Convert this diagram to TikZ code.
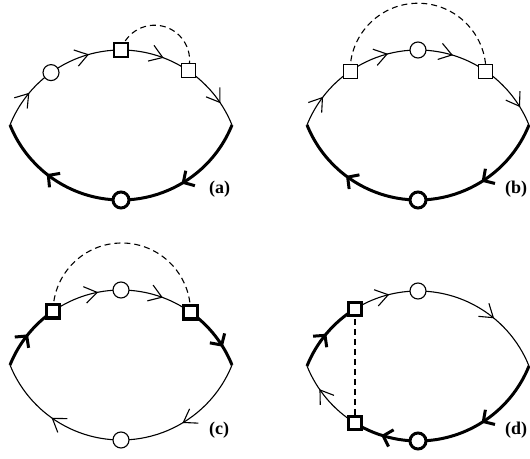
\documentclass[tikz,border=0pt]{standalone}
\usepackage{fontspec}
\setmainfont{Liberation Serif}
\usetikzlibrary{calc}
\def\R{119.64}
\def\H{44.64}
\tikzset{
 lthin/.style={line width=1.1pt},
 lthick/.style={line width=3pt},
 dsh/.style={lthin, dash pattern=on 6pt off 4pt},
 sq/.style={draw, fill=white, rectangle, minimum size=14pt, inner sep=0pt, lthin},
 Sq/.style={draw, fill=white, rectangle, minimum size=13.5pt, inner sep=0pt, line width=3.3pt},
 cir/.style={draw, fill=white, circle, minimum size=16pt, inner sep=0pt, lthin},
 Cir/.style={cir, lthick},
 lab/.style={anchor=base west, inner sep=0pt, font=\fontsize{18}{18}\selectfont\bfseries},
}
% chevron at angle #1 on the arc whose centre is (0,#2); thin or thick
\newcommand\chv[2]{\draw[lthin, line join=miter] ([shift={(0,#2)}]#1:\R) ++(#1+90-34:15) -- ([shift={(0,#2)}]#1:\R) -- ++(#1+90+34:15);}
\newcommand\Chv[2]{\draw[lthick, line join=miter] ([shift={(0,#2)}]#1:\R) ++(#1+90-47:12) -- ([shift={(0,#2)}]#1:\R) -- ++(#1+90+47:12);}
\newcommand\UA[2]{#1{#2}{-\H}}
\newcommand\LA[2]{#1{#2}{\H}}
\begin{document}
\begin{tikzpicture}[x=1pt,y=1pt]
\useasboundingbox (0,0) rectangle (530,458);
% ---------------- (a)
\begin{scope}[shift={(121,333)}]
 \coordinate (aL) at (-111,0); \coordinate (aR) at (111,0);
 \coordinate (aS1) at ([shift={(0,-\H)}]90:\R);
 \coordinate (aS2) at ([shift={(0,-\H)}]55.9:\R);
 \draw[dsh] let \p1=(aS1), \p2=(aS2), \n1={atan2(\y2-\y1,\x2-\x1)}, \n2={veclen(\x2-\x1,\y2-\y1)/2}
   in (aS1) arc[start angle=\n1+180, delta angle=-180, radius=\n2];
 \draw[lthin] (aL) arc[start angle=158.08, end angle=21.92, radius=\R];
 \draw[lthick] (aR) arc[start angle=-21.92, end angle=-158.08, radius=\R];
 \UA\chv{140.5} \UA\chv{106} \UA\chv{69.6} \UA\chv{34.2}
 \LA\Chv{-58.6} \LA\Chv{-127.4}
 \node[cir] (aC1) at ([shift={(0,-\H)}]125.8:\R) {};
 \node[sq] (aQ1) at (aS1) {};
 \node[sq] (aQ2) at (aS2) {};
 \node[Cir] (aC2) at ([shift={(0,\H)}]-90:\R) {};
\end{scope}
% ---------------- (b)
\begin{scope}[shift={(418,333)}]
 \coordinate (bL) at (-111,0); \coordinate (bR) at (111,0);
 \coordinate (bS1) at ([shift={(0,-\H)}]124.6:\R);
 \coordinate (bS2) at ([shift={(0,-\H)}]55.4:\R);
 \draw[dsh] let \p1=(bS1), \p2=(bS2), \n1={atan2(\y2-\y1,\x2-\x1)}, \n2={veclen(\x2-\x1,\y2-\y1)/2}
   in (bS1) arc[start angle=\n1+180, delta angle=-180, radius=\n2];
 \draw[lthin] (bL) arc[start angle=158.08, end angle=21.92, radius=\R];
 \draw[lthick] (bR) arc[start angle=-21.92, end angle=-158.08, radius=\R];
 \UA\chv{143} \UA\chv{105} \UA\chv{73.5} \UA\chv{32}
 \LA\Chv{-56.9} \LA\Chv{-126}
 \node[sq] (bQ1) at (bS1) {};
 \node[sq] (bQ2) at (bS2) {};
 \node[cir] (bC1) at ([shift={(0,-\H)}]90:\R) {};
 \node[Cir] (bC2) at ([shift={(0,\H)}]-90:\R) {};
\end{scope}
% ---------------- (c)
\begin{scope}[shift={(121,93)}]
 \coordinate (cL) at (-111,0); \coordinate (cR) at (111,0);
 \coordinate (cS1) at ([shift={(0,-\H)}]124.6:\R);
 \coordinate (cS2) at ([shift={(0,-\H)}]54.5:\R);
 \draw[dsh] let \p1=(cS1), \p2=(cS2), \n1={atan2(\y2-\y1,\x2-\x1)}, \n2={veclen(\x2-\x1,\y2-\y1)/2}
   in (cS1) arc[start angle=\n1+180, delta angle=-180, radius=\n2];
 \draw[lthick] (cL) arc[start angle=158.08, end angle=124.6, radius=\R];
 \draw[lthin] (cS1) arc[start angle=124.6, end angle=54.5, radius=\R];
 \draw[lthick] (cS2) arc[start angle=54.5, end angle=21.92, radius=\R];
 \draw[lthin] (cR) arc[start angle=-21.92, end angle=-158.08, radius=\R];
 \UA\Chv{142} \UA\chv{101.5} \UA\chv{70} \UA\Chv{32.7}
 \LA\chv{-58.6} \LA\chv{-125}
 \node[Sq] (cQ1) at (cS1) {};
 \node[Sq] (cQ2) at (cS2) {};
 \node[cir] (cC1) at ([shift={(0,-\H)}]90:\R) {};
 \node[cir] (cC2) at ([shift={(0,\H)}]-90:\R) {};
\end{scope}
% ---------------- (d)
\begin{scope}[shift={(418,92)}]
 \coordinate (dL) at (-111,0); \coordinate (dR) at (111,0);
 \coordinate (dS1) at ([shift={(0,-\H)}]121.8:\R);
 \coordinate (dS2) at ([shift={(0,\H)}]-121.8:\R);
 \draw[dsh] (dS1) -- (dS2);
 \draw[lthick] (dL) arc[start angle=158.08, end angle=121.8, radius=\R];
 \draw[lthin] (dS1) arc[start angle=121.8, end angle=21.92, radius=\R];
 \draw[lthick] (dR) arc[start angle=-21.92, end angle=-121.8, radius=\R];
 \draw[lthin] (dS2) arc[start angle=-121.8, end angle=-158.08, radius=\R];
 \UA\Chv{141} \UA\chv{104.4} \UA\chv{51}
 \LA\Chv{-56.9} \LA\Chv{-106.9} \LA\chv{-145}
 \node[Sq] (dQ1) at (dS1) {};
 \node[Sq] (dQ2) at (dS2) {};
 \node[cir] (dC1) at ([shift={(0,-\H)}]90:\R) {};
 \node[Cir] (dC2) at ([shift={(0,\H)}]-90:\R) {};
\end{scope}
% labels
\node[lab] (la) at (209,264) {(a)};
\node[lab] (lb) at (505,264) {(b)};
\node[lab] (lc) at (209,24) {(c)};
\node[lab] (ld) at (505,24) {(d)};
\end{tikzpicture}
\end{document}
